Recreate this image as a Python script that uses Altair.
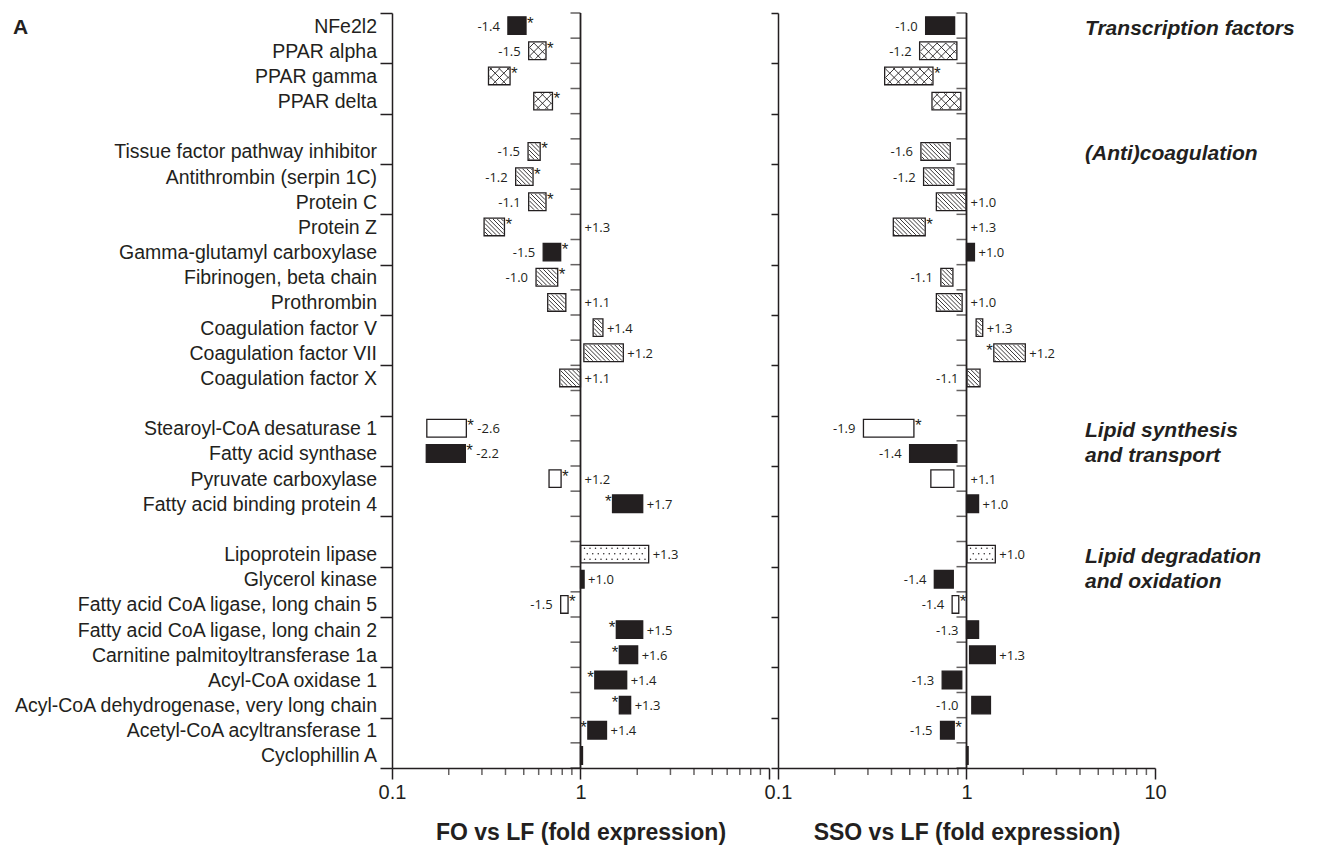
import numpy as np
import pandas as pd
import altair as alt

INK = "#231f20"

genes = ["NFe2l2", "PPAR alpha", "PPAR gamma", "PPAR delta", "",
         "Tissue factor pathway inhibitor", "Antithrombin (serpin 1C)", "Protein C", "Protein Z",
         "Gamma-glutamyl carboxylase", "Fibrinogen, beta chain", "Prothrombin",
         "Coagulation factor V", "Coagulation factor VII", "Coagulation factor X", "",
         "Stearoyl-CoA desaturase 1", "Fatty acid synthase", "Pyruvate carboxylase",
         "Fatty acid binding protein 4", "",
         "Lipoprotein lipase", "Glycerol kinase", "Fatty acid CoA ligase, long chain 5",
         "Fatty acid CoA ligase, long chain 2", "Carnitine palmitoyltransferase 1a",
         "Acyl-CoA oxidase 1", "Acyl-CoA dehydrogenase, very long chain",
         "Acetyl-CoA acyltransferase 1", "Cyclophillin A"]

patterns = ["solid", "cross", "cross", "cross", None,
            "hatch", "hatch", "hatch", "hatch", "solid", "hatch", "hatch", "hatch", "hatch", "hatch", None,
            "white", "solid", "white", "solid", None,
            "dots", "solid", "dots", "solid", "solid", "solid", "solid", "solid", "solid"]

# FO vs LF panel: bar extents (fold), printed fold label, label side, star side
fo_low = [0.412, 0.531, 0.325, 0.565, None,
          0.527, 0.453, 0.531, 0.308, 0.634, 0.581, 0.670, 1.167, 1.042, 0.776, None,
          0.153, 0.152, 0.681, 1.479, None,
          1.0, 1.0, 0.785, 1.549, 1.607, 1.191, 1.607, 1.094, 1.0]
fo_high = [0.514, 0.656, 0.423, 0.710, None,
           0.611, 0.560, 0.656, 0.395, 0.785, 0.757, 0.836, 1.315, 1.687, 1.0, None,
           0.248, 0.245, 0.789, 2.138, None,
           2.30, 1.045, 0.859, 2.138, 2.01, 1.758, 1.845, 1.374, 1.025]
fo_text = ["-1.4", "-1.5", "", "", "",
           "-1.5", "-1.2", "-1.1", "+1.3", "-1.5", "-1.0", "+1.1", "+1.4", "+1.2", "+1.1", "",
           "-2.6", "-2.2", "+1.2", "+1.7", "",
           "+1.3", "+1.0", "-1.5", "+1.5", "+1.6", "+1.4", "+1.3", "+1.4", ""]
fo_side = ["L", "L", "", "", "",
           "L", "L", "L", "R", "L", "L", "R", "R", "R", "R", "",
           "B", "B", "R", "R", "",
           "R", "R", "L", "R", "R", "R", "R", "R", ""]
fo_star = ["R", "R", "R", "R", "",
           "R", "R", "R", "R", "R", "R", "", "", "", "", "",
           "R", "R", "R", "L", "",
           "", "", "R", "L", "L", "L", "L", "L", ""]

# SSO vs LF panel
sso_low = [0.607, 0.564, 0.368, 0.656, None,
           0.573, 0.592, 0.692, 0.409, 1.0, 0.731, 0.692, 1.125, 1.396, 1.005, None,
           0.284, 0.499, 0.647, 1.0, None,
           1.005, 0.675, 0.839, 1.0, 1.038, 0.743, 1.067, 0.728, 1.0]
sso_high = [0.865, 0.889, 0.664, 0.933, None,
            0.820, 0.857, 0.995, 0.604, 1.102, 0.847, 0.948, 1.219, 2.051, 1.180, None,
            0.526, 0.889, 0.857, 1.159, None,
            1.422, 0.851, 0.910, 1.159, 1.422, 0.944, 1.340, 0.861, 1.02]
sso_text = ["-1.0", "-1.2", "", "", "",
            "-1.6", "-1.2", "+1.0", "+1.3", "+1.0", "-1.1", "+1.0", "+1.3", "+1.2", "-1.1", "",
            "-1.9", "-1.4", "+1.1", "+1.0", "",
            "+1.0", "-1.4", "-1.4", "-1.3", "+1.3", "-1.3", "-1.0", "-1.5", ""]
sso_side = ["L", "L", "", "", "",
            "L", "L", "R", "R", "R", "L", "R", "R", "R", "L", "",
            "L", "L", "R", "R", "",
            "R", "L", "L", "L", "R", "L", "L", "L", ""]
sso_star = ["", "", "R", "", "",
            "", "", "", "R", "", "", "", "", "L", "", "",
            "R", "", "", "", "",
            "", "", "R", "", "", "", "", "R", ""]

groups = ["Transcription factors", "(Anti)coagulation", "Lipid synthesis", "and transport",
          "Lipid degradation", "and oxidation"]
group_rows = [0, 5, 16, 17, 21, 22]

W, H = 377, 755
NROW = len(genes)
ROWPX = H / NROW
HALF = 0.35


def to_px(v):
    return W * (np.log10(v) + 1) / 2


def from_px(px):
    return 10 ** (2 * px / W - 1)


def py_to_row(py):
    return py / ROWPX - 0.5


def pattern_geometry(df):
    rules, dots = [], []
    for _, r in df.iterrows():
        pat = r["pattern"]
        if pat not in ("hatch", "cross", "dots"):
            continue
        xl = to_px(r["low"]) + 0.9
        xh = to_px(r["high"]) - 0.9
        yt = (r["row"] - HALF + 0.5) * ROWPX + 0.9
        yb = (r["row"] + HALF + 0.5) * ROWPX - 0.9
        if pat in ("hatch", "cross"):
            s = 4.2 if pat == "hatch" else 8.6
            for k in range(int(np.floor((xl - yb) / s)), int(np.ceil((xh - yt) / s)) + 1):
                c = k * s
                ylo, yhi = max(yt, xl - c), min(yb, xh - c)
                if yhi - ylo > 0.3:
                    rules.append((from_px(ylo + c), from_px(yhi + c), py_to_row(ylo), py_to_row(yhi)))
            if pat == "cross":
                for k in range(int(np.floor((xl + yt) / s)), int(np.ceil((xh + yb) / s)) + 1):
                    c = k * s
                    ylo, yhi = max(yt, c - xh), min(yb, c - xl)
                    if yhi - ylo > 0.3:
                        rules.append((from_px(c - ylo), from_px(c - yhi), py_to_row(ylo), py_to_row(yhi)))
        else:
            for j, yy in enumerate(np.arange(yt + 2.0, yb - 1.0, 5.5)):
                off = 2.75 if j % 2 else 0.0
                for xx in np.arange(np.ceil((xl + 1.5) / 5.5) * 5.5 + off, xh - 1.0, 5.5):
                    dots.append((from_px(xx), py_to_row(yy)))
    return (pd.DataFrame(rules, columns=["hx1", "hx2", "hy1", "hy2"]),
            pd.DataFrame(dots, columns=["dx", "dy"]))


major_ticks = [0.1, 1.0, 10.0]
minor_ticks = [round(m * 10.0 ** e, 3) for e in (-1, 0) for m in range(2, 10)]
ybounds = [i - 0.5 for i in range(NROW + 1)]


def xaxis(show10):
    expr = "datum.value == 0.1 ? '0.1' : datum.value == 1 ? '1' : " + (
        "datum.value == 10 ? '10' : ''" if show10 else "''")
    return alt.Axis(values=major_ticks, labelExpr=expr, tickSize=11,
                    tickWidth=1.5, tickColor=INK, domainColor=INK, domainWidth=1.5,
                    labelFont="Liberation Sans", labelFontSize=20, labelColor=INK,
                    labelPadding=3, labelOverlap=False, labelFlush=False, grid=False,
                    titleFont="Liberation Sans", titleFontSize=23, titleFontWeight="bold",
                    titleColor=INK, titlePadding=19)


def yaxis(tick_len):
    return alt.Axis(values=ybounds, labels=False, tickSize=tick_len, tickWidth=1.5,
                    tickColor=INK, domainColor=INK, domainWidth=1.5, grid=False)


def panel(low, high, text, side, star, show_names, show10, title, right_notes):
    df = pd.DataFrame({"row": list(range(NROW)), "gene": genes, "pattern": patterns,
                       "low": low, "high": high, "text": text, "side": side, "star": star})
    names = df[df["gene"] != ""]
    df = df[df["low"].notna()].copy()
    df["low"] = df["low"].astype(float)
    df["high"] = df["high"].astype(float)
    df["y0"] = df["row"] - HALF
    df["y1"] = df["row"] + HALF
    df["lx"] = np.where(df["side"] == "L", np.minimum(df["low"], 1.0),
                        np.where(df["side"] == "R", np.maximum(df["high"], 1.0), df["high"]))
    hatch_df, dots_df = pattern_geometry(df)

    xs = alt.Scale(type="log", domain=[0.1, 10], nice=False)
    ys = alt.Scale(domain=[-0.5, NROW - 0.5], reverse=True, nice=False, zero=False)

    layers = []
    layers.append(alt.Chart(df).mark_bar(stroke=INK, strokeWidth=1.3).encode(
        x=alt.X("low:Q", scale=xs, axis=xaxis(show10), title=title),
        x2="high:Q",
        y=alt.Y("y0:Q", scale=ys, axis=yaxis(12 if show_names else 7), title=None),
        y2="y1:Q",
        color=alt.Color("pattern:N", legend=None,
                        scale=alt.Scale(domain=["solid", "white", "hatch", "cross", "dots"],
                                        range=[INK, "white", "white", "white", "white"]))))
    layers.append(alt.Chart(hatch_df).mark_rule(color=INK, strokeWidth=0.9).encode(
        x=alt.X("hx1:Q", scale=xs), x2="hx2:Q",
        y=alt.Y("hy1:Q", scale=ys), y2="hy2:Q"))
    if len(dots_df):
        layers.append(alt.Chart(dots_df).mark_circle(color=INK, size=2.2, opacity=1).encode(
            x=alt.X("dx:Q", scale=xs), y=alt.Y("dy:Q", scale=ys)))

    one = pd.DataFrame({"one": [1.0]})
    layers.append(alt.Chart(one).mark_rule(color=INK, strokeWidth=1.8).encode(
        x=alt.X("one:Q", scale=xs)))
    tk = pd.DataFrame({"one": [1.0] * len(ybounds), "b": ybounds})
    layers.append(alt.Chart(tk).mark_tick(orient="horizontal", size=10, thickness=1.5,
                                          xOffset=-5, color=INK).encode(
        x=alt.X("one:Q", scale=xs), y=alt.Y("b:Q", scale=ys)))
    mt = pd.DataFrame({"m": minor_ticks, "yb": [NROW - 0.5] * len(minor_ticks)})
    layers.append(alt.Chart(mt).mark_tick(orient="vertical", size=7, thickness=1.5,
                                          yOffset=3.5, color=INK).encode(
        x=alt.X("m:Q", scale=xs), y=alt.Y("yb:Q", scale=ys)))

    lab = df[df["text"] != ""]
    for sd, align, dx in (("L", "right", -8), ("R", "left", 4), ("B", "left", 11)):
        d = lab[lab["side"] == sd]
        if len(d):
            layers.append(alt.Chart(d).mark_text(align=align, baseline="middle", dx=dx, dy=1,
                                                 font="Open Sans", fontSize=13, color=INK).encode(
                x=alt.X("lx:Q", scale=xs), y=alt.Y("row:Q", scale=ys),
                text="text:N"))
    for sd, field, align, dx in (("R", "high", "left", 1), ("L", "low", "right", -1)):
        d = df[df["star"] == sd]
        if len(d):
            layers.append(alt.Chart(d).mark_text(align=align, baseline="alphabetic", dx=dx, dy=3,
                                                 font="Liberation Sans", fontSize=17, color=INK).encode(
                x=alt.X(f"{field}:Q", scale=xs), y=alt.Y("row:Q", scale=ys),
                text=alt.value("*")))
    if show_names:
        layers.append(alt.Chart(names).mark_text(align="right", baseline="middle", dy=1,
                                                 font="Liberation Sans", fontSize=19.5,
                                                 color=INK).encode(
            x=alt.value(-15), y=alt.Y("row:Q", scale=ys), text="gene:N"))
        adf = pd.DataFrame({"t": ["A"]})
        layers.append(alt.Chart(adf).mark_text(align="left", baseline="alphabetic",
                                               font="Liberation Sans", fontSize=21,
                                               fontWeight="bold", color=INK).encode(
            x=alt.value(-379), y=alt.value(21), text="t:N"))
    if right_notes:
        gdf = pd.DataFrame({"name": groups, "row": group_rows})
        layers.append(alt.Chart(gdf).mark_text(align="left", baseline="middle", dy=3,
                                               font="Liberation Sans", fontSize=21,
                                               fontWeight="bold", fontStyle="italic",
                                               color=INK).encode(
            x=alt.value(307), y=alt.Y("row:Q", scale=ys), text="name:N"))
    return alt.layer(*layers).properties(width=W, height=H)


left = panel(fo_low, fo_high, fo_text, fo_side, fo_star, True, False,
             "FO vs LF (fold expression)", False)
right = panel(sso_low, sso_high, sso_text, sso_side, sso_star, False, True,
              "SSO vs LF (fold expression)", True)

chart = alt.hconcat(left, right, spacing=9, bounds="flush").properties(
    padding={"top": 4, "left": 5, "right": 5, "bottom": 4}
).configure_view(stroke=None)

chart.save("out.html", embed_options={"renderer": "svg", "actions": False})
